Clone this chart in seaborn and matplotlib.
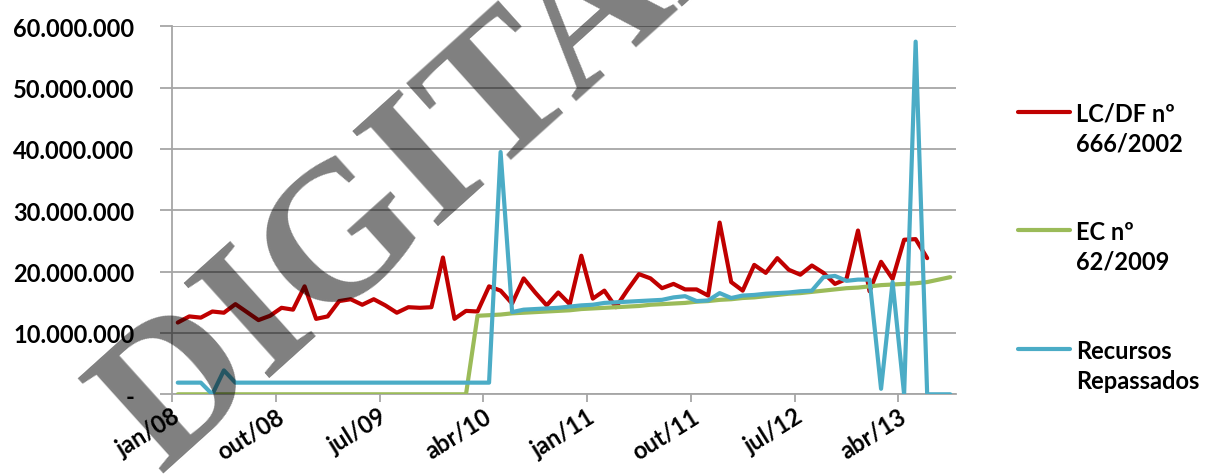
import numpy as np
import pandas as pd
import matplotlib
matplotlib.use("Agg")
import matplotlib.pyplot as plt
import seaborn as sns
from matplotlib.lines import Line2D
from matplotlib.ticker import FuncFormatter, FixedLocator

# ---------------- data (monthly, jan/08 .. ago/13) ----------------
month_abbr = ["jan", "fev", "mar", "abr", "mai", "jun",
              "jul", "ago", "set", "out", "nov", "dez"]
months = [f"{month_abbr[m]}/{y:02d}" for y in range(8, 14) for m in range(12)][:68]

# LC/DF nº 666/2002 (R$ milhões) jan/08 .. jun/13
lc_df = [11.7, 12.7, 12.5, 13.5, 13.3, 14.7, 13.4, 12.1, 12.8, 14.1,
         13.8, 17.6, 12.3, 12.7, 15.2, 15.5, 14.6, 15.5, 14.5, 13.3,
         14.2, 14.1, 14.2, 22.3, 12.3, 13.6, 13.5, 17.6, 16.9, 14.8,
         18.9, 16.6, 14.5, 16.6, 14.7, 22.6, 15.6, 16.9, 14.2, 17.0,
         19.6, 18.9, 17.3, 18.0, 17.1, 17.1, 16.1, 28.0, 18.3, 16.9,
         21.1, 19.8, 22.2, 20.3, 19.5, 21.0, 19.8, 18.0, 18.8, 26.7,
         16.8, 21.6, 18.8, 25.2, 25.3, 22.2]

# EC nº 62/2009 (R$ milhões) jan/08 .. ago/13
ec_62 = [0.0, 0.0, 0.0, 0.0, 0.0, 0.0, 0.0, 0.0, 0.0, 0.0,
         0.0, 0.0, 0.0, 0.0, 0.0, 0.0, 0.0, 0.0, 0.0, 0.0,
         0.0, 0.0, 0.0, 0.0, 0.0, 0.0, 12.8, 12.9, 13.0, 13.2,
         13.3, 13.4, 13.5, 13.6, 13.7, 13.9, 14.0, 14.1, 14.2, 14.3,
         14.4, 14.6, 14.7, 14.8, 14.9, 15.1, 15.2, 15.4, 15.5, 15.7,
         15.8, 16.0, 16.2, 16.4, 16.5, 16.7, 16.9, 17.1, 17.3, 17.4,
         17.6, 17.8, 17.9, 18.0, 18.1, 18.3, 18.7, 19.1]

# Recursos Repassados (R$ milhões) jan/08 .. ago/13
repassados = [1.9, 1.9, 1.9, 0.0, 3.9, 1.9, 1.9, 1.9, 1.9, 1.9,
              1.9, 1.9, 1.9, 1.9, 1.9, 1.9, 1.9, 1.9, 1.9, 1.9,
              1.9, 1.9, 1.9, 1.9, 1.9, 1.9, 1.9, 1.9, 39.5, 13.4,
              13.8, 13.9, 14.0, 14.1, 14.3, 14.5, 14.6, 14.9, 15.0, 15.1,
              15.2, 15.3, 15.4, 15.8, 16.0, 15.2, 15.3, 16.5, 15.7, 16.1,
              16.2, 16.4, 16.5, 16.6, 16.8, 16.9, 19.1, 19.3, 18.5, 18.7,
              18.7, 0.9, 18.3, 0.0, 57.5, 0.0, 0.0, 0.0]

series_names = ["LC/DF nº\n666/2002", "EC nº\n62/2009", "Recursos\nRepassados"]
series_colors = ["#C00000", "#9BBB59", "#4BACC6"]

# ---------------- style ----------------
sns.set_theme(style="white")
plt.rcParams["font.family"] = ["Lato", "DejaVu Sans"]

fig = plt.figure(figsize=(12.07, 4.77), dpi=100)
ax = fig.add_axes([172 / 1207, 1 - 395.3 / 477, (956 - 172) / 1207, (395.3 - 27.3) / 477])

idx = np.arange(len(months))
data_list = [lc_df, ec_62, repassados]
for vals, name, col in zip(data_list, series_names, series_colors):
    x = idx[:len(vals)]
    y = np.array(vals) * 1e6
    sns.lineplot(x=x, y=y, ax=ax, color=col, linewidth=3.0, label=name,
                 legend=False, zorder=3)

ax.set_xlim(-0.5, len(months) - 0.5)
ax.set_ylim(0, 60e6)

# y axis
ax.yaxis.set_major_locator(FixedLocator(np.arange(0, 60e6 + 1, 10e6)))
def fmt(v, pos):
    if abs(v) < 1:
        return "-"
    return f"{int(round(v)):,}".replace(",", ".")
ax.yaxis.set_major_formatter(FuncFormatter(fmt))
ax.grid(axis="y", color="#a6a6a6", linewidth=1.3)
ax.grid(axis="x", visible=False)
ax.tick_params(axis="y", which="major", length=9, width=1.3, color="#a6a6a6",
               pad=18, labelsize=17, labelcolor="black", left=True)
for lab in ax.get_yticklabels():
    lab.set_fontweight("bold")

# x axis: labels every 9 months, ticks at category boundaries
lab_pos = idx[::9]
ax.set_xticks(lab_pos)
ax.set_xticklabels([months[i] for i in lab_pos], rotation=32, ha="right",
                   va="center", rotation_mode="anchor", fontsize=17,
                   fontweight="bold", color="black")
ax.tick_params(axis="x", which="major", length=0, pad=14)
ax.set_xticks(np.arange(-0.5, len(months), 9), minor=True)
ax.tick_params(axis="x", which="minor", length=6, width=1.3, color="#a6a6a6",
               bottom=True)

for s in ["top", "right"]:
    ax.spines[s].set_visible(False)
for s in ["left", "bottom"]:
    ax.spines[s].set_color("#a6a6a6")
    ax.spines[s].set_linewidth(1.3)
ax.set_xlabel("")
ax.set_ylabel("")

# legend (Excel style: handle aligned with first text line)
leg_y = [113, 231, 350]
for yy, name, col in zip(leg_y, series_names, series_colors):
    yf = 1 - yy / 477
    fig.add_artist(Line2D([1018 / 1207, 1070 / 1207], [yf, yf], color=col,
                          linewidth=3.0, solid_capstyle="round",
                          transform=fig.transFigure))
    fig.text(1076 / 1207, yf + 10 / 477, name, ha="left", va="top",
             fontsize=17, fontweight="bold", color="black",
             linespacing=1.35)

# watermark stamp
fig.text(160 / 1207, 1 - 474 / 477, "DIGITAL", rotation=42,
         rotation_mode="anchor", ha="left", va="baseline",
         fontsize=140, family="Liberation Serif", fontweight="bold",
         color="black", alpha=0.5, zorder=20)

fig.savefig("out.png", dpi=100)
